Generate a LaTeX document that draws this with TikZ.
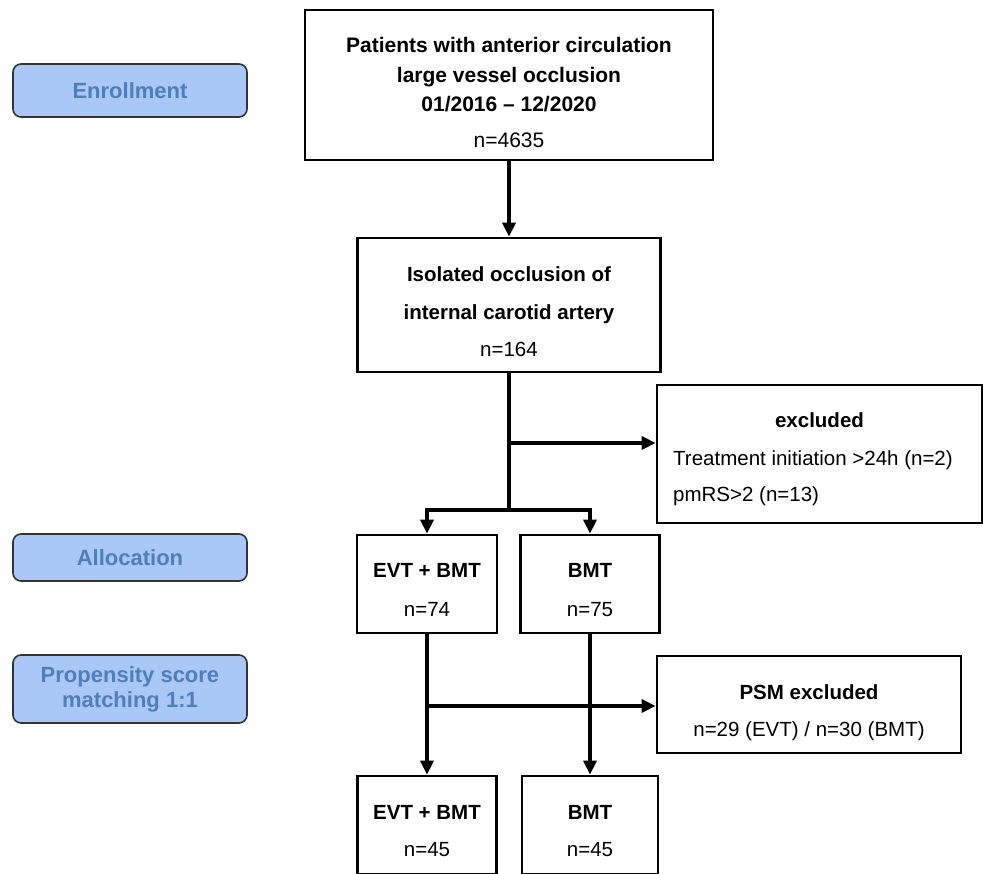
\documentclass[tikz,border=0pt]{standalone}
\usepackage{fontspec}
\setmainfont{Liberation Sans}
\usetikzlibrary{arrows.meta}
\definecolor{phasefill}{HTML}{A9C7F7}
\definecolor{phasetext}{HTML}{4F7FBA}
\definecolor{phaseline}{HTML}{333333}
\begin{document}
\begin{tikzpicture}[x=1pt,y=-1pt,
  box/.style={draw=black, line width=2.7pt, inner sep=0pt},
  phase/.style={draw=phaseline, line width=1.6pt, fill=phasefill, rounded corners=8pt,
    minimum width=234pt, inner sep=0pt, text=phasetext,
    font=\fontsize{22}{25}\selectfont\bfseries, align=center},
  txt/.style={inner sep=0pt, align=center, font=\fontsize{20.5}{37.5}\selectfont},
  conn/.style={line width=3.3pt},
  arr/.style={conn, -{Triangle[length=14pt,width=13pt]}}]
\useasboundingbox (0,0) rectangle (983,874);
\begin{scope}
\clip (0,0) rectangle (983,874);

% phase labels
\node[phase, minimum height=53pt] (enr) at (130,90.5) {Enrollment};
\node[phase, minimum height=47pt] (alloc) at (130,557.5) {Allocation};
\node[phase, minimum height=68pt] (psmlab) at (130,689) {Propensity score\\matching 1:1};

% boxes
\node[box, minimum width=408pt, minimum height=150pt] (top) at (509,85) {};
\node[box, minimum width=303pt, minimum height=134pt] (iso) at (509,305) {};
\node[box, minimum width=325pt, minimum height=138pt] (excl) at (819.5,454) {};
\node[box, minimum width=140pt, minimum height=98pt] (evt1) at (427,584) {};
\node[box, minimum width=139pt, minimum height=98pt] (bmt1) at (590,584) {};
\node[box, minimum width=304pt, minimum height=97pt] (psm) at (809,704.5) {};
\node[box, minimum width=139pt, minimum height=98pt] (evt2) at (427,825) {};
\node[box, minimum width=136pt, minimum height=98pt] (bmt2) at (590,825) {};

% texts
\node[txt, font=\fontsize{21}{29.5}\selectfont] (topT) at (509,92.5)
  {\textbf{Patients with anterior circulation}\\\textbf{large vessel occlusion}\\\textbf{01/2016 – 12/2020}\\[6pt]n=4635};
\node[txt] (isoT) at (509,312) {\textbf{Isolated occlusion of}\\\textbf{internal carotid artery}\\n=164};
\node[txt] (exclH) at (819.5,420.5) {\textbf{excluded}};
\node[txt, align=left, anchor=west, font=\fontsize{20.5}{36.5}\selectfont] (exclL) at (673,478)
  {Treatment initiation >24h (n=2)\\pmRS>2 (n=13)};
\node[txt, font=\fontsize{20.5}{39}\selectfont] (evt1T) at (427,590) {\textbf{EVT + BMT}\\n=74};
\node[txt, font=\fontsize{20.5}{39}\selectfont] (bmt1T) at (590,590) {\textbf{BMT}\\n=75};
\node[txt, font=\fontsize{20.5}{37}\selectfont] (psmT) at (809,713) {\textbf{PSM excluded}\\n=29 (EVT) / n=30 (BMT)};
\node[txt, font=\fontsize{20.5}{37}\selectfont] (evt2T) at (427,831) {\textbf{EVT + BMT}\\n=45};
\node[txt, font=\fontsize{20.5}{37}\selectfont] (bmt2T) at (590,831) {\textbf{BMT}\\n=45};

% connectors
\coordinate (j1) at (509,443);
\coordinate (j2) at (509,510);
\coordinate (j3) at (427,706);
\draw[arr] (top.south) -- (iso.north);
\draw[conn] (iso.south) -- (j2);
\draw[arr] (j1) -- (j1 -| excl.west);
\draw[arr] (j2) -| (evt1.north);
\draw[arr] (j2) -| (bmt1.north);
\draw[arr] (evt1.south) -- (evt2.north);
\draw[arr] (bmt1.south) -- (bmt2.north);
\draw[arr] (j3) -- (j3 -| psm.west);
\end{scope}
\end{tikzpicture}
\end{document}
